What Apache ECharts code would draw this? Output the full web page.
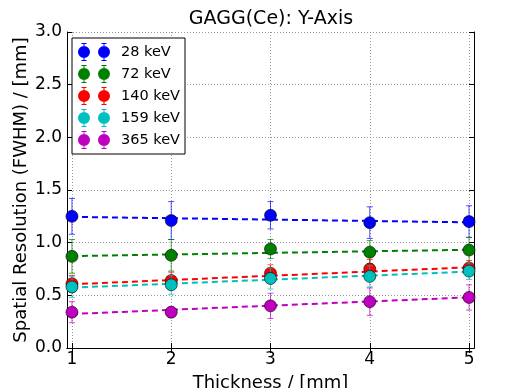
<!DOCTYPE html>
<html>
<head>
<meta charset="utf-8">
<script src="https://cdn.jsdelivr.net/npm/echarts@6/dist/echarts.min.js"></script>
<style>
  html, body { margin: 0; padding: 0; background: #fff; }
  #chart { width: 509px; height: 388px; }
</style>
</head>
<body>
<div id="chart"></div>
<script>
// thickness in mm
var thickness = [1, 2, 3, 4, 5];
var xTicks = [1, 2, 3, 4, 5];

// spatial resolution (FWHM) per energy, with errors
var energies = ['28 keV', '72 keV', '140 keV', '159 keV', '365 keV'];
var colors = ['#0000ff', '#008000', '#ff0000', '#00bfbf', '#bf00bf'];

var res28 = [1.25, 1.21, 1.26, 1.19, 1.20];
var err28 = [0.17, 0.18, 0.13, 0.15, 0.15];
var res72 = [0.87, 0.88, 0.94, 0.91, 0.93];
var err72 = [0.16, 0.15, 0.09, 0.11, 0.12];
var res140 = [0.61, 0.64, 0.71, 0.75, 0.76];
var err140 = [0.08, 0.08, 0.08, 0.09, 0.07];
var res159 = [0.58, 0.60, 0.66, 0.68, 0.73];
var err159 = [0.10, 0.09, 0.10, 0.10, 0.08];
var res365 = [0.34, 0.34, 0.40, 0.44, 0.48];
var err365 = [0.10, 0.05, 0.12, 0.13, 0.12];

// linear fit, value at first and last thickness
var fitX = [1, 5];
var fit28 = [1.245, 1.193];
var fit72 = [0.873, 0.933];
var fit140 = [0.605, 0.766];
var fit159 = [0.573, 0.725];
var fit365 = [0.323, 0.481];

var resAll = [res28, res72, res140, res159, res365];
var errAll = [err28, err72, err140, err159, err365];
var fitAll = [fit28, fit72, fit140, fit159, fit365];

// legend icon: two markers with error bars (like matplotlib numpoints=2)
var legendIcon = 'path://M0,9A6,6,0,1,1,12,9A6,6,0,1,1,0,9Z' +
  'M20,9A6,6,0,1,1,32,9A6,6,0,1,1,20,9Z' +
  'M5.5,0L6.5,0L6.5,18L5.5,18Z M3.5,0L8.5,0L8.5,1L3.5,1Z M3.5,17L8.5,17L8.5,18L3.5,18Z' +
  'M25.5,0L26.5,0L26.5,18L25.5,18Z M23.5,0L28.5,0L28.5,1L23.5,1Z M23.5,17L28.5,17L28.5,18L23.5,18Z';

var font = 'DejaVu Sans';
var chart = echarts.init(document.getElementById('chart'));

var series = [];
energies.forEach(function (name, k) {
  var col = colors[k];
  // error bars
  series.push({
    name: name + ' err',
    type: 'custom',
    z: 2 + k * 3,
    silent: true,
    data: thickness.map(function (t, i) { return [t, resAll[k][i], errAll[k][i]]; }),
    renderItem: function (params, api) {
      var x = api.value(0), y = api.value(1), e = api.value(2);
      var top = api.coord([x, y + e]);
      var bot = api.coord([x, y - e]);
      var st = { stroke: col, lineWidth: 1, opacity: 0.7 };
      return {
        type: 'group',
        children: [
          { type: 'line', shape: { x1: top[0], y1: top[1], x2: bot[0], y2: bot[1] }, style: st },
          { type: 'line', shape: { x1: top[0] - 3, y1: top[1], x2: top[0] + 3, y2: top[1] }, style: st },
          { type: 'line', shape: { x1: bot[0] - 3, y1: bot[1], x2: bot[0] + 3, y2: bot[1] }, style: st }
        ]
      };
    }
  });
  // fit line
  series.push({
    name: name + ' fit',
    type: 'line',
    z: 3 + k * 3,
    silent: true,
    symbol: 'none',
    data: fitX.map(function (t, i) { return [t, fitAll[k][i]]; }),
    lineStyle: { color: col, width: 2, type: [6, 4] }
  });
  // points
  series.push({
    name: name,
    type: 'scatter',
    z: 4 + k * 3,
    symbolSize: 12,
    data: thickness.map(function (t, i) { return [t, resAll[k][i]]; }),
    itemStyle: { color: col, borderColor: '#000', borderWidth: 0.6, opacity: 1 }
  });
});

var option = {
  animation: false,
  backgroundColor: '#fff',
  textStyle: { fontFamily: font },
  title: {
    text: 'GAGG(Ce): Y-Axis',
    left: 266,
    textAlign: 'center',
    top: 5,
    textStyle: { fontFamily: font, fontSize: 19, fontWeight: 'normal', color: '#000' }
  },
  legend: {
    orient: 'vertical',
    left: 72,
    top: 38,
    padding: [5, 5, 5, 6],
    itemWidth: 32,
    itemHeight: 18,
    itemGap: 4,
    icon: legendIcon,
    borderColor: '#000',
    borderWidth: 1,
    backgroundColor: '#fff',
    data: energies,
    itemStyle: { borderWidth: 0 },
    textStyle: { fontFamily: font, fontSize: 14.5, color: '#000', padding: [0, 0, 0, 6] }
  },
  grid: { left: 67, right: 35, top: 32, bottom: 40, outerBoundsMode: 'none' },
  xAxis: [{
    type: 'value',
    min: 0.95,
    max: 5.05,
    name: 'Thickness / [mm]',
    nameLocation: 'middle',
    nameGap: 26,
    nameMoveOverlap: false,
    nameTextStyle: { fontFamily: font, fontSize: 18, color: '#000' },
    axisLine: { lineStyle: { color: '#000', width: 1 } },
    axisTick: { inside: true, length: 5, customValues: xTicks, lineStyle: { color: '#000' } },
    axisLabel: { customValues: xTicks, fontFamily: font, fontSize: 17, color: '#000', margin: 3 },
    splitLine: { show: true, lineStyle: { color: '#999', type: [1, 2], width: 1 } }
  }, {
    type: 'value',
    position: 'top',
    min: 0.95,
    max: 5.05,
    axisLine: { lineStyle: { color: '#000', width: 1 } },
    axisTick: { inside: true, length: 5, customValues: xTicks, lineStyle: { color: '#000' } },
    axisLabel: { show: false },
    splitLine: { show: false }
  }],
  yAxis: [{
    type: 'value',
    min: 0,
    max: 3,
    interval: 0.5,
    name: 'Spatial Resolution (FWHM) / [mm]',
    nameLocation: 'middle',
    nameRotate: 90,
    nameGap: 37,
    nameMoveOverlap: false,
    nameTextStyle: { fontFamily: font, fontSize: 18, color: '#000' },
    axisLine: { show: true, lineStyle: { color: '#000', width: 1 } },
    axisTick: { show: true, inside: true, length: 5, lineStyle: { color: '#000' } },
    axisLabel: {
      fontFamily: font, fontSize: 17, color: '#000', margin: 5,
      formatter: function (v) { return v.toFixed(1); }
    },
    splitLine: { show: true, lineStyle: { color: '#999', type: [1, 2], width: 1 } }
  }, {
    type: 'value',
    position: 'right',
    min: 0,
    max: 3,
    interval: 0.5,
    axisLine: { show: true, lineStyle: { color: '#000', width: 1 } },
    axisTick: { show: true, inside: true, length: 5, lineStyle: { color: '#000' } },
    axisLabel: { show: false },
    splitLine: { show: false }
  }],
  series: series
};

chart.setOption(option);
</script>
</body>
</html>
